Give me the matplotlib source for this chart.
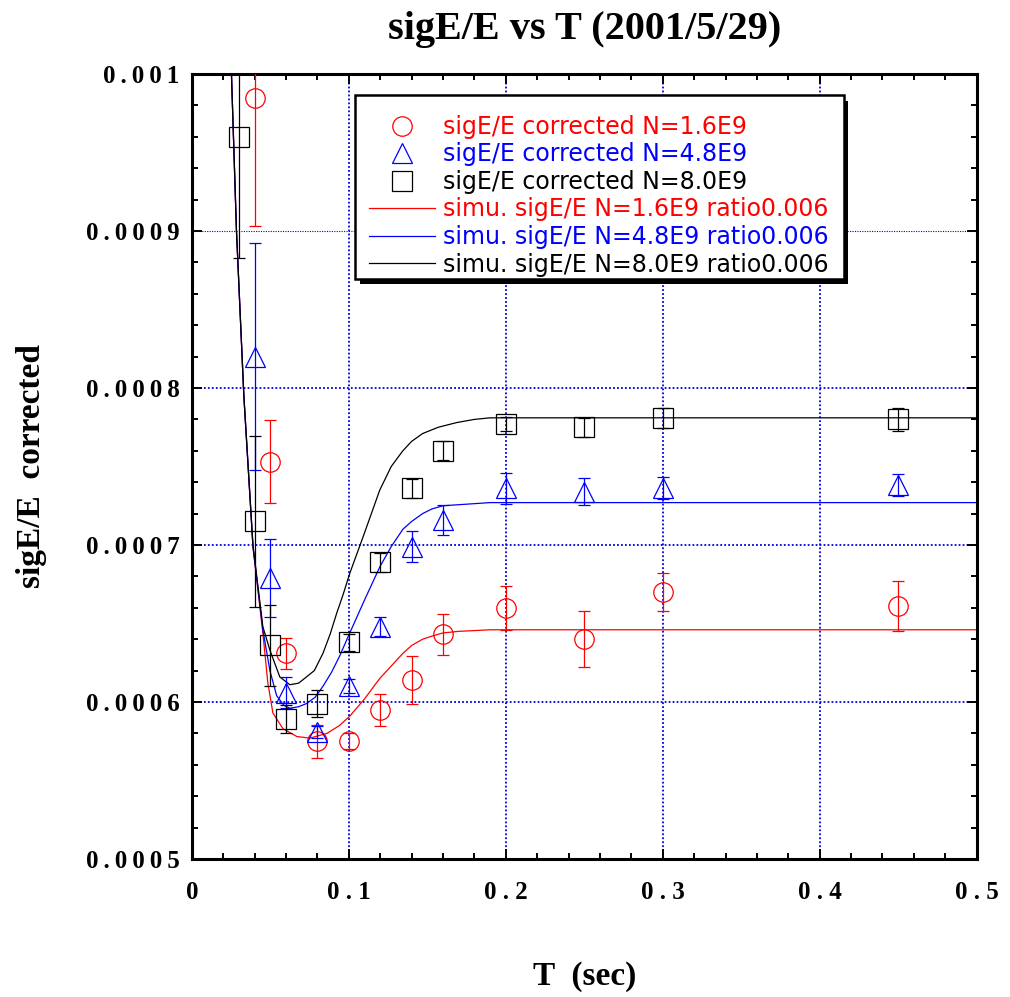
import matplotlib
matplotlib.use("Agg")
import matplotlib.pyplot as plt
from matplotlib.lines import Line2D
from matplotlib.patches import Rectangle
from matplotlib.ticker import MultipleLocator

# measured sigE/E after correction, per beam intensity
T_16 = [0.04, 0.05, 0.06, 0.08, 0.10, 0.12, 0.14, 0.16, 0.20, 0.25, 0.30, 0.45]
sig_16 = [0.000985, 0.000753, 0.000631, 0.000575, 0.000575, 0.000595,
          0.000614, 0.000643, 0.000660, 0.000640, 0.000670, 0.000661]
err_16 = [0.000082, 0.0000265, 0.00001, 0.0000105, 0.000005, 0.00001,
          0.0000155, 0.000013, 0.000014, 0.000018, 0.000012, 0.000016]

T_48 = [0.04, 0.05, 0.06, 0.08, 0.10, 0.12, 0.14, 0.16, 0.20, 0.25, 0.30, 0.45]
sig_48 = [0.000820, 0.000679, 0.000606, 0.000581, 0.000610, 0.000648,
          0.000699, 0.000716, 0.000736, 0.000734, 0.000736, 0.000738]
err_48 = [0.0000725, 0.000025, 0.00001, 0.000004, 0.0000045, 0.000006,
          0.00001, 0.0000095, 0.00001, 0.0000085, 0.000007, 0.000007]

T_80 = [0.03, 0.04, 0.05, 0.06, 0.08, 0.10, 0.12, 0.14, 0.16, 0.20, 0.25, 0.30, 0.45]
sig_80 = [0.000960, 0.000715, 0.000636, 0.000589, 0.000599, 0.000638, 0.000689,
          0.000736, 0.000760, 0.000777, 0.000775, 0.000781, 0.000780]
err_80 = [0.000077, 0.0000545, 0.0000255, 0.000009, 0.0000085, 0.0000055, 0.000006,
          0.000006, 0.000006, 0.0000045, 0.000006, 0.0000065, 0.0000075]

# simulation curves (ratio 0.006)
simT_16 = [0.024, 0.0252, 0.0284, 0.0331, 0.0389, 0.0452, 0.0484, 0.0516, 0.058,
           0.0669, 0.0752, 0.086, 0.094, 0.1006, 0.11, 0.1197, 0.128, 0.1344,
           0.14, 0.147, 0.153, 0.16, 0.17, 0.19, 0.25, 0.5]
sim_16 = [0.00104, 0.001, 0.0009, 0.000795, 0.000699, 0.000644, 0.000612, 0.000593,
          0.000583, 0.000578, 0.000577, 0.00058, 0.000585, 0.000591, 0.000602,
          0.000615, 0.000624, 0.000631, 0.000636, 0.00064, 0.000642, 0.000644,
          0.000645, 0.000646, 0.000646, 0.000646]

simT_48 = [0.024, 0.0252, 0.0284, 0.0331, 0.0389, 0.0452, 0.0497, 0.054, 0.0585,
           0.0624, 0.068, 0.073, 0.0785, 0.0835, 0.089, 0.094, 0.1006, 0.11,
           0.1197, 0.127, 0.1344, 0.14, 0.147, 0.153, 0.16, 0.175, 0.19, 0.25, 0.5]
sim_48 = [0.00104, 0.001, 0.0009, 0.000795, 0.000699, 0.000646, 0.00062, 0.000604,
          0.000598, 0.000596, 0.000597, 0.000599, 0.000603, 0.00061, 0.000619,
          0.000629, 0.000644, 0.000665, 0.000686, 0.000699, 0.00071, 0.000715,
          0.00072, 0.000723, 0.000725, 0.000726, 0.000727, 0.000727, 0.000727]

simT_80 = [0.024, 0.0252, 0.0284, 0.0331, 0.0389, 0.0452, 0.0497, 0.056, 0.0624,
           0.068, 0.073, 0.078, 0.0835, 0.088, 0.0924, 0.0962, 0.1006, 0.109,
           0.1197, 0.127, 0.1344, 0.14, 0.147, 0.157, 0.1688, 0.18, 0.19, 0.25, 0.5]
sim_80 = [0.00104, 0.001, 0.0009, 0.000795, 0.0007, 0.000648, 0.000633, 0.000616,
          0.000611, 0.000612, 0.000616, 0.00062, 0.000631, 0.000643, 0.000657,
          0.000668, 0.000682, 0.000705, 0.000735, 0.00075, 0.00076, 0.000766,
          0.000771, 0.000775, 0.000778, 0.00078, 0.000781, 0.000781, 0.000781]

x_ticks = [0, 0.1, 0.2, 0.3, 0.4, 0.5]
x_labels = ["0", "0.1", "0.2", "0.3", "0.4", "0.5"]
y_ticks = [0.0005, 0.0006, 0.0007, 0.0008, 0.0009, 0.001]
y_labels = ["0.0005", "0.0006", "0.0007", "0.0008", "0.0009", "0.001"]

labels = ["sigE/E corrected N=1.6E9", "sigE/E corrected N=4.8E9",
          "sigE/E corrected N=8.0E9", "simu. sigE/E N=1.6E9 ratio0.006",
          "simu. sigE/E N=4.8E9 ratio0.006", "simu. sigE/E N=8.0E9 ratio0.006"]

RED, BLUE, BLACK = "#ff0000", "#0000ff", "#000000"
serif = ["Liberation Serif", "DejaVu Serif"]

fig = plt.figure(figsize=(10.10, 9.97), dpi=100)
ax = fig.add_axes([0.190, 0.1384, 0.777, 0.7874])

# dotted grid at the inner major ticks
for v in x_ticks[1:-1]:
    ax.axvline(v, color="#0000dd", ls=(0, (1, 1.2)), lw=1.3, zorder=1)
for v in y_ticks[1:-1]:
    ax.axhline(v, color="#0000dd", ls=(0, (1, 1.2)), lw=1.3 if v < 0.00085 else 0.8, zorder=1)

# simulation lines
ax.plot(simT_16, sim_16, color=RED, lw=0.9, zorder=2)
ax.plot(simT_48, sim_48, color=BLUE, lw=0.9, zorder=2)
ax.plot(simT_80, sim_80, color=BLACK, lw=0.9, zorder=2)

# measured points with error bars
common = dict(ls="none", mfc="none", ms=14, mew=0.9, elinewidth=0.9,
              capsize=4, capthick=0.9, zorder=3)
ax.errorbar(T_16, sig_16, yerr=err_16, fmt="o", color=RED, **common)
ax.errorbar(T_48, sig_48, yerr=err_48, fmt="^", color=BLUE, **common)
ax.errorbar(T_80, sig_80, yerr=err_80, fmt="s", color=BLACK, **common)

ax.set_xlim(0, 0.5)
ax.set_ylim(0.0005, 0.001)

ax.set_xticks(x_ticks)
ax.set_xticklabels([" ".join(s) for s in x_labels], fontfamily=serif,
                   fontweight="bold", fontsize=18)
ax.set_yticks(y_ticks)
ax.set_yticklabels(["\u2009".join(s) for s in y_labels], fontfamily=serif,
                   fontweight="bold", fontsize=18)
ax.xaxis.set_minor_locator(MultipleLocator(0.02))
ax.yaxis.set_minor_locator(MultipleLocator(0.00002))
ax.tick_params(which="both", direction="in", top=True, right=True, width=1.4)
ax.tick_params(which="major", length=7)
ax.tick_params(which="minor", length=4)
ax.tick_params(axis="x", pad=16)
ax.tick_params(axis="y", pad=9)
for sp in ax.spines.values():
    sp.set_linewidth(2.2)

ax.set_title("sigE/E vs T (2001/5/29)", fontfamily=serif, fontweight="bold",
             fontsize=29, pad=25)
ax.set_xlabel("T  (sec)", fontfamily=serif, fontweight="bold", fontsize=24, labelpad=41)
ax.set_ylabel("sigE/E  corrected", fontfamily=serif, fontweight="bold", fontsize=24,
              labelpad=28)

# legend box with a solid drop shadow
box_x, box_y, box_w, box_h = 0.2076, 0.739, 0.623, 0.234
ax.add_patch(Rectangle((box_x + 0.006, box_y - 0.007), box_w, box_h,
                       transform=ax.transAxes, facecolor="black", zorder=4))
ax.add_patch(Rectangle((box_x, box_y), box_w, box_h, transform=ax.transAxes,
                       facecolor="white", edgecolor="black", lw=1.8, zorder=4))

handles = [
    Line2D([], [], ls="none", marker="o", mfc="none", mec=RED, ms=14, mew=0.9),
    Line2D([], [], ls="none", marker="^", mfc="none", mec=BLUE, ms=14, mew=0.9),
    Line2D([], [], ls="none", marker="s", mfc="none", mec=BLACK, ms=14, mew=0.9),
    Line2D([], [], color=RED, lw=0.9),
    Line2D([], [], color=BLUE, lw=0.9),
    Line2D([], [], color=BLACK, lw=0.9),
]
leg = ax.legend(handles, labels, loc="upper left", bbox_to_anchor=(0.2255, 0.948),
                borderaxespad=0, borderpad=0, frameon=False, handlelength=2.8,
                handletextpad=0.34, labelspacing=0.15,
                labelcolor=[RED, BLUE, BLACK, RED, BLUE, BLACK],
                prop={"family": "DejaVu Sans", "size": 17})
leg.set_zorder(5)

fig.savefig("out.png", dpi=100, facecolor="white")
